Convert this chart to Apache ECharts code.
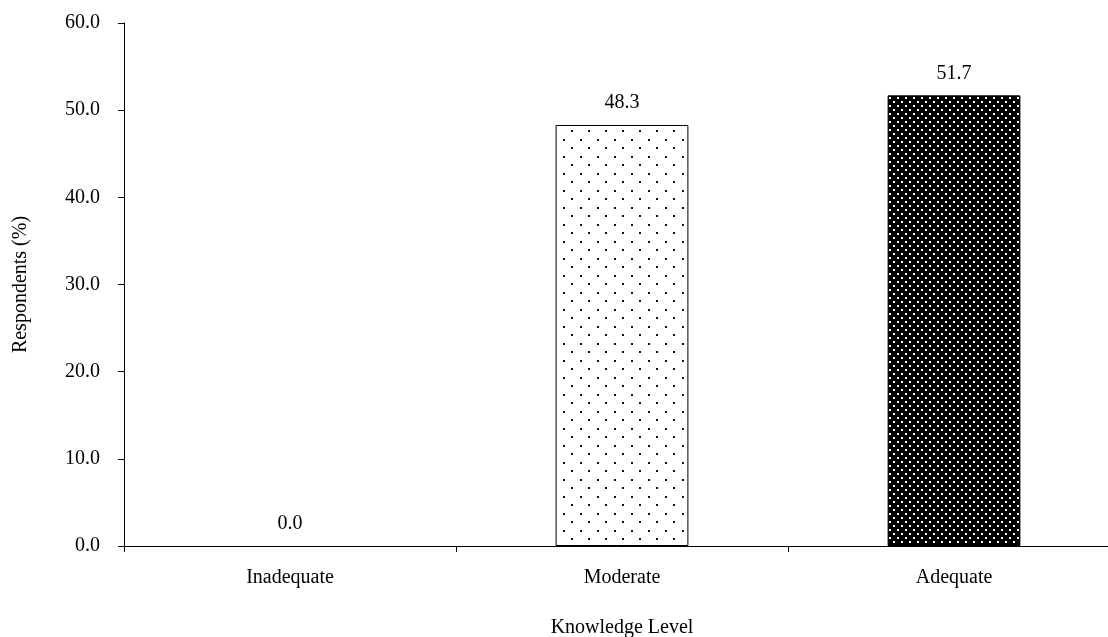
<!DOCTYPE html>
<html>
<head>
<meta charset="utf-8">
<script src="https://cdn.jsdelivr.net/npm/echarts@6/dist/echarts.min.js"></script>
<style>html,body{margin:0;padding:0;background:#fff}#c{width:1108px;height:637px}</style>
</head>
<body>
<div id="c"></div>
<script>
const categories = ['Inadequate', 'Moderate', 'Adequate'];
const values = [0.0, 48.3, 51.7];
const yTicks = [0, 10, 20, 30, 40, 50, 60];

function sparseDots() {
  const c = document.createElement('canvas');
  c.width = 17; c.height = 17;
  const g = c.getContext('2d');
  g.fillStyle = '#fff'; g.fillRect(0, 0, 17, 17);
  g.fillStyle = '#111';
  g.fillRect(2, 3, 2, 2);
  g.fillRect(10, 11, 2, 2);
  return c;
}
function denseDots() {
  const c = document.createElement('canvas');
  c.width = 8; c.height = 8;
  const g = c.getContext('2d');
  g.fillStyle = '#000'; g.fillRect(0, 0, 8, 8);
  g.fillStyle = '#fff';
  g.fillRect(1, 1, 2, 2);
  g.fillRect(5, 5, 2, 2);
  return c;
}
const fills = [
  {image: sparseDots(), repeat: 'repeat'},
  {image: sparseDots(), repeat: 'repeat'},
  {image: denseDots(), repeat: 'repeat'}
];

const font = 'Liberation Serif, Times New Roman, serif';
const chart = echarts.init(document.getElementById('c'));
chart.setOption({
  animation: false,
  backgroundColor: '#fff',
  grid: {left: 124, right: -12, top: 23, bottom: 91, outerBoundsMode: 'none', containLabel: false},
  xAxis: {
    type: 'category',
    data: categories,
    name: 'Knowledge Level',
    nameLocation: 'middle',
    nameGap: 72,
    nameTextStyle: {fontFamily: font, fontSize: 20, color: '#000'},
    axisLine: {lineStyle: {color: '#000', width: 1}},
    axisTick: {show: true, length: 6, lineStyle: {color: '#000'}},
    axisLabel: {fontFamily: font, fontSize: 20, color: '#000', margin: 22}
  },
  yAxis: {
    type: 'value',
    min: 0, max: 60, interval: 10,
    name: 'Respondents (%)',
    nameLocation: 'middle',
    nameGap: 93,
    nameTextStyle: {fontFamily: font, fontSize: 20, color: '#000'},
    axisLine: {show: true, lineStyle: {color: '#000', width: 1}},
    axisTick: {show: true, length: 6, lineStyle: {color: '#000'}},
    splitLine: {show: false},
    axisLabel: {fontFamily: font, fontSize: 20, color: '#000', margin: 24,
      formatter: v => yTicks.includes(v) ? v.toFixed(1) : ''}
  },
  series: [{
    type: 'bar',
    barWidth: '40%',
    data: values.map((v, i) => ({value: v, itemStyle: {color: fills[i], borderColor: '#000', borderWidth: v === 0 ? 0 : 1}})),
    label: {show: true, position: 'top', distance: 12, fontFamily: font, fontSize: 20, color: '#000',
      formatter: p => p.value.toFixed(1)}
  }]
});
</script>
</body>
</html>
